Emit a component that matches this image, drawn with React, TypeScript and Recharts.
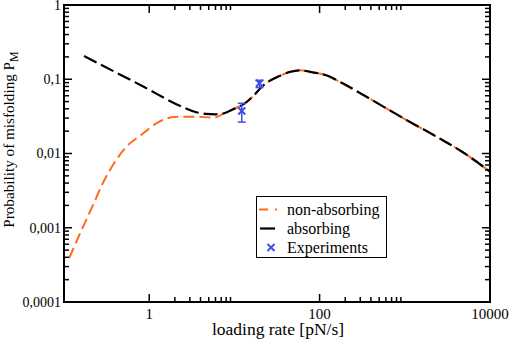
import React from 'react';
import { ComposedChart, Line, Scatter, XAxis, YAxis, ErrorBar, Legend } from 'recharts';

// ---- data ----
const absRate = [0.172, 0.83, 2.4, 3.5, 4.6, 6.0, 7.6, 9.5, 13.8, 17.2, 21.4, 33.9, 44.4, 58, 82.8, 120, 186, 295, 580, 1150, 2390, 4800, 10000];
const absProb = [0.205, 0.081, 0.0429, 0.0362, 0.0342, 0.0337, 0.0349, 0.039, 0.049, 0.0618, 0.081, 0.111, 0.125, 0.132, 0.124, 0.113, 0.0882, 0.0656, 0.0418, 0.0266, 0.0167, 0.0104, 0.0057];

const nonAbsRate = [0.115, 0.158, 0.218, 0.286, 0.39, 0.536, 0.805, 1.27, 1.99, 3.41, 5.87, 7.6, 9.5, 13.8, 17.2, 21.4, 33.9, 44.4, 58, 82.8, 120, 186, 295, 580, 1150, 2390, 4800, 10000];
const nonAbsProb = [0.00039, 0.00089, 0.002, 0.004, 0.0075, 0.01225, 0.0178, 0.0262, 0.0311, 0.0313, 0.0305, 0.0349, 0.039, 0.049, 0.0618, 0.081, 0.111, 0.125, 0.132, 0.124, 0.113, 0.0882, 0.0656, 0.0418, 0.0266, 0.0167, 0.0104, 0.0057];

const expRate = [12.2, 19.7];
const expProb = [0.0373, 0.0883];
const expErrLow = [0.0108, 0.0111];
const expErrHigh = [0.0101, 0.0087];

const xMajorTicks = [1, 100, 10000];
const xTickLabels = ['1', '100', '10000'];
const xMinorTicks = [2, 3, 4, 5, 6, 7, 8, 9, 200, 300, 400, 500, 600, 700, 800, 900];

const yMajorTicks = [0.0001, 0.001, 0.01, 0.1, 1];
const yTickLabels = ['0,0001', '0,001', '0,01', '0,1', '1'];
const yMinorTicks = [
  0.0002, 0.0003, 0.0004, 0.0005, 0.0006, 0.0007, 0.0008, 0.0009,
  0.002, 0.003, 0.004, 0.005, 0.006, 0.007, 0.008, 0.009,
  0.02, 0.03, 0.04, 0.05, 0.06, 0.07, 0.08, 0.09,
  0.2, 0.3, 0.4, 0.5, 0.6, 0.7, 0.8, 0.9,
];

const legendLabels = ['non-absorbing', 'absorbing', 'Experiments'];
const xTitle = 'loading rate [pN/s]';
const yTitle = 'Probability of misfolding P';
const yTitleSub = 'M';

// ---- derived tables ----
const absData = absRate.map((x, i) => ({ x, y: absProb[i] }));
const nonAbsData = nonAbsRate.map((x, i) => ({ x, y: nonAbsProb[i] }));
const expData = expRate.map((x, i) => ({ x, y: expProb[i], err: [expErrLow[i], expErrHigh[i]] }));
const xTicks = [...xMajorTicks, ...xMinorTicks].sort((a, b) => a - b);
const yTicks = [...yMajorTicks, ...yMinorTicks].sort((a, b) => a - b);

const ORANGE = '#ff6a1f';
const BLUE = '#3c50e6';
const FONT = '"Liberation Serif", "Times New Roman", serif';
const MAJOR = 8;
const MINOR = 5;
const AXIS_LINE = { stroke: '#000', strokeWidth: 2, strokeLinecap: 'square' as const };

const XTickBottom = (props: any) => {
  const { x, y, payload } = props;
  const idx = xMajorTicks.indexOf(payload.value);
  const len = idx >= 0 ? MAJOR : MINOR;
  return (
    <g>
      <line x1={x} x2={x} y1={y} y2={y - len} stroke="#000" strokeWidth={1.5} />
      {idx >= 0 && (
        <text x={x} y={y + 17} textAnchor="middle" fontSize={15} fontFamily={FONT} fill="#000">
          {xTickLabels[idx]}
        </text>
      )}
    </g>
  );
};

const XTickTop = (props: any) => {
  const { x, y, payload } = props;
  const len = xMajorTicks.indexOf(payload.value) >= 0 ? MAJOR : MINOR;
  return <line x1={x} x2={x} y1={y} y2={y + len} stroke="#000" strokeWidth={1.5} />;
};

const YTickLeft = (props: any) => {
  const { x, y, payload } = props;
  const idx = yMajorTicks.indexOf(payload.value);
  const len = idx >= 0 ? MAJOR : MINOR;
  return (
    <g>
      <line x1={x} x2={x + len} y1={y} y2={y} stroke="#000" strokeWidth={1.5} />
      {idx >= 0 && (
        <text x={x - 3} y={y} dy="0.35em" textAnchor="end" fontSize={14} fontFamily={FONT} fill="#000">
          {yTickLabels[idx]}
        </text>
      )}
    </g>
  );
};

const YTickRight = (props: any) => {
  const { x, y, payload } = props;
  const len = yMajorTicks.indexOf(payload.value) >= 0 ? MAJOR : MINOR;
  return <line x1={x} x2={x - len} y1={y} y2={y} stroke="#000" strokeWidth={1.5} />;
};

const XTitle = (props: any) => {
  const vb = props.viewBox || {};
  return (
    <text x={vb.x + vb.width / 2 + 1} y={vb.y + 33} textAnchor="middle" fontSize={17.5} fontFamily={FONT} fill="#000">
      {xTitle}
    </text>
  );
};

const YTitle = (props: any) => {
  const vb = props.viewBox || {};
  const cx = vb.x - 49;
  const cy = vb.y + vb.height / 2 - 14;
  return (
    <text
      transform={`translate(${cx},${cy}) rotate(-90)`}
      x={0}
      y={0}
      textAnchor="middle"
      fontSize={15.2}
      fontFamily={FONT}
      fill="#000"
    >
      {yTitle}
      <tspan dy={4} fontSize={12}>{yTitleSub}</tspan>
    </text>
  );
};

const Cross = (props: any) => {
  const { cx, cy } = props;
  const s = 3.5;
  return (
    <g>
      <line x1={cx - s} y1={cy - s} x2={cx + s} y2={cy + s} stroke={BLUE} strokeWidth={2} />
      <line x1={cx - s} y1={cy + s} x2={cx + s} y2={cy - s} stroke={BLUE} strokeWidth={2} />
    </g>
  );
};

const LegendBox = () => {
  const rowTop = [3, 22, 41];
  const symbols = [
    <svg width={24} height={19} key="s0">
      <line x1={2} x2={20} y1={9.5} y2={9.5} stroke={ORANGE} strokeWidth={2} strokeDasharray="9 7" />
    </svg>,
    <svg width={24} height={19} key="s1">
      <line x1={3} x2={18} y1={9.5} y2={9.5} stroke="#000" strokeWidth={2.2} />
    </svg>,
    <svg width={24} height={19} key="s2">
      <line x1={10.5} y1={6} x2={17.5} y2={13} stroke={BLUE} strokeWidth={2} />
      <line x1={10.5} y1={13} x2={17.5} y2={6} stroke={BLUE} strokeWidth={2} />
    </svg>,
  ];
  return (
    <div
      style={{
        position: 'relative',
        width: 131,
        height: 62,
        boxSizing: 'border-box',
        border: '1.5px solid #000',
        background: '#fff',
        fontFamily: FONT,
        fontSize: 16,
        color: '#000',
      }}
    >
      {legendLabels.map((label, i) => (
        <div key={label} style={{ position: 'absolute', left: 0, top: rowTop[i], height: 19, display: 'flex', alignItems: 'center' }}>
          {symbols[i]}
          <span style={{ position: 'absolute', left: 30, lineHeight: '19px', whiteSpace: 'nowrap' }}>{label}</span>
        </div>
      ))}
    </div>
  );
};

export default function App() {
  return (
    <div style={{ position: 'absolute', left: 0, top: 0, width: 511, height: 340, background: '#fff' }}>
      <ComposedChart width={511} height={340} margin={{ top: 4, right: 20, bottom: 37, left: 63 }}>
        <XAxis
          xAxisId="b"
          dataKey="x"
          type="number"
          scale="log"
          domain={[0.1, 10000]}
          allowDataOverflow
          ticks={xTicks}
          interval={0}
          height={1}
          tickSize={0}
          tickMargin={0}
          tick={<XTickBottom />}
          axisLine={AXIS_LINE}
          label={<XTitle />}
        />
        <XAxis
          xAxisId="t"
          orientation="top"
          dataKey="x"
          type="number"
          scale="log"
          domain={[0.1, 10000]}
          allowDataOverflow
          ticks={xTicks}
          interval={0}
          height={1}
          tickSize={0}
          tickMargin={0}
          tick={<XTickTop />}
          axisLine={AXIS_LINE}
        />
        <YAxis
          yAxisId="l"
          dataKey="y"
          type="number"
          scale="log"
          domain={[0.0001, 1]}
          allowDataOverflow
          ticks={yTicks}
          interval={0}
          width={1}
          tickSize={0}
          tickMargin={0}
          tick={<YTickLeft />}
          axisLine={AXIS_LINE}
          label={<YTitle />}
        />
        <YAxis
          yAxisId="r"
          orientation="right"
          dataKey="y"
          type="number"
          scale="log"
          domain={[0.0001, 1]}
          allowDataOverflow
          ticks={yTicks}
          interval={0}
          width={1}
          tickSize={0}
          tickMargin={0}
          tick={<YTickRight />}
          axisLine={AXIS_LINE}
        />
        <Line
          xAxisId="b"
          yAxisId="l"
          data={nonAbsData}
          dataKey="y"
          type="monotone"
          stroke={ORANGE}
          strokeWidth={2}
          strokeDasharray="11 5"
          dot={false}
          activeDot={false}
          isAnimationActive={false}
        />
        <Line
          xAxisId="b"
          yAxisId="l"
          data={absData}
          dataKey="y"
          type="monotone"
          stroke="#000"
          strokeWidth={2.2}
          strokeDasharray="14 5"
          dot={false}
          activeDot={false}
          isAnimationActive={false}
        />
        <Scatter xAxisId="b" yAxisId="l" data={expData} dataKey="y" shape={<Cross />} isAnimationActive={false}>
          <ErrorBar dataKey="err" direction="y" width={4} stroke={BLUE} strokeWidth={1.5} isAnimationActive={false} />
        </Scatter>
        <Legend
          layout="vertical"
          align="center"
          verticalAlign="middle"
          content={() => <LegendBox />}
          wrapperStyle={{ left: 256, top: 196, width: 131, height: 62 }}
        />
      </ComposedChart>
    </div>
  );
}
